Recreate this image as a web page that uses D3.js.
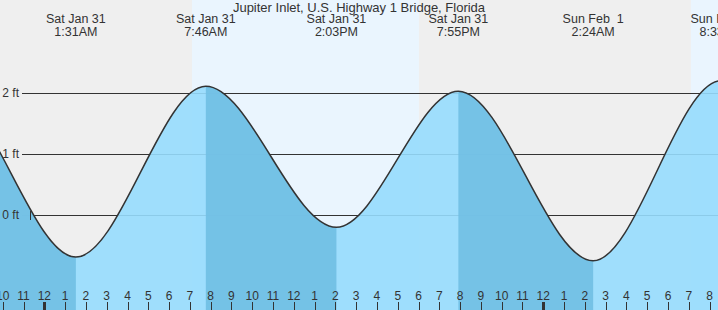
<!DOCTYPE html>
<html>
<head>
<meta charset="utf-8">
<script src="https://cdn.jsdelivr.net/npm/d3@7"></script>
<style>
body { margin: 0; background: #fff; }
text { font-family: "Liberation Sans", Arial, sans-serif; fill: #333; }
</style>
</head>
<body>
<svg width="718" height="310"></svg>
<script>
var title = "Jupiter Inlet, U.S. Highway 1 Bridge, Florida";

// tide extremes (high/low), local time
var tideTimes = ["2026-01-30T13:10", "2026-01-30T19:22", "2026-01-31T01:31", "2026-01-31T07:46", "2026-01-31T14:03",
                 "2026-01-31T19:55", "2026-02-01T02:24", "2026-02-01T08:33", "2026-02-01T14:50"];
var tideHeights = [-0.2, 2.0, -0.69, 2.11, -0.2, 2.03, -0.75, 2.2, -0.15];
var tideLabelled = [false, false, true, true, true, true, true, true, false];

// daylight spans
var sunrise = ["2026-01-31T07:06", "2026-02-01T07:06"];
var sunset  = ["2026-01-31T18:01", "2026-02-01T18:02"];

var feetTicks = [0, 1, 2];

var svg = d3.select("svg"),
    width = +svg.attr("width"),
    height = +svg.attr("height");

var parse = d3.timeParse("%Y-%m-%dT%H:%M");

var tides = tideTimes.map(function(t, i) {
    return {date: parse(t), ft: tideHeights[i], label: tideLabelled[i]};
});

var x = d3.scaleTime()
    .domain([parse("2026-01-30T21:52"), new Date(+parse("2026-02-01T08:24") + 18000)])
    .range([0, width]);

var y = d3.scaleLinear()
    .domain([0, 2])
    .range([215, 93]);

// night background, then daylight
svg.append("rect")
    .attr("width", width).attr("height", height)
    .attr("fill", "#efefef");

svg.selectAll(".day")
    .data(sunrise)
    .enter().append("rect")
    .attr("class", "day")
    .attr("x", function(d) { return x(parse(d)); })
    .attr("width", function(d, i) { return x(parse(sunset[i])) - x(parse(d)); })
    .attr("y", 0).attr("height", height)
    .attr("fill", "#eaf5fe");

// grid
svg.selectAll(".grid")
    .data(feetTicks)
    .enter().append("line")
    .attr("class", "grid")
    .attr("x1", 22).attr("x2", width)
    .attr("y1", function(d) { return Math.round(y(d)) + 0.5; })
    .attr("y2", function(d) { return Math.round(y(d)) + 0.5; })
    .attr("stroke", "#333");

var area = d3.area()
    .curve(d3.curveMonotoneX)
    .x(function(d) { return x(d.date); })
    .y0(height)
    .y1(function(d) { return y(d.ft); });

var line = d3.line()
    .curve(d3.curveMonotoneX)
    .x(function(d) { return x(d.date); })
    .y(function(d) { return y(d.ft); });

svg.append("path")
    .datum(tides)
    .attr("d", area)
    .attr("fill", "#96dbfd")
    .attr("fill-opacity", 0.9);

// falling tide (high -> low) is darker
var falling = [];
tides.forEach(function(d, i) {
    if (i < tides.length - 1 && d.ft > tides[i + 1].ft) falling.push([d.date, tides[i + 1].date]);
});

var defs = svg.append("defs");
defs.append("clipPath").attr("id", "fall")
    .selectAll("rect")
    .data(falling)
    .enter().append("rect")
    .attr("x", function(d) { return x(d[0]); })
    .attr("width", function(d) { return x(d[1]) - x(d[0]); })
    .attr("y", 0).attr("height", height);

svg.append("path")
    .datum(tides)
    .attr("d", area)
    .attr("clip-path", "url(#fall)")
    .attr("fill", "#71bfe4")
    .attr("fill-opacity", 0.92);

svg.append("path")
    .datum(tides)
    .attr("d", line)
    .attr("fill", "none")
    .attr("stroke", "#333")
    .attr("stroke-width", 1.5);

// small mark on the 0 ft line
svg.append("line")
    .attr("x1", 30.5).attr("x2", 30.5)
    .attr("y1", y(0) - 4).attr("y2", y(0) + 5)
    .attr("stroke", "#333");

// y labels
svg.selectAll(".ylab")
    .data(feetTicks)
    .enter().append("text")
    .attr("x", 19)
    .attr("y", function(d) { return y(d); })
    .attr("dy", "0.35em")
    .attr("text-anchor", "end")
    .style("font-size", "12px")
    .text(function(d) { return d + " ft"; });

// title + extreme labels
svg.append("text")
    .attr("x", width / 2).attr("y", 12)
    .attr("text-anchor", "middle")
    .style("font-size", "13px")
    .text(title);

var dayFmt = d3.timeFormat("%a %b %e"),
    timeFmt = d3.timeFormat("%-I:%M%p");

var lab = svg.selectAll(".tlab")
    .data(tides.filter(function(d) { return d.label; }))
    .enter().append("g")
    .attr("transform", function(d) { return "translate(" + x(d.date) + ",0)"; });

lab.append("text")
    .attr("y", 23)
    .attr("text-anchor", "middle")
    .style("font-size", "12.5px")
    .style("white-space", "pre")
    .text(function(d) { return dayFmt(d.date); });

lab.append("text")
    .attr("y", 36)
    .attr("text-anchor", "middle")
    .style("font-size", "12.5px")
    .text(function(d) { return timeFmt(d.date); });

// hour axis along the bottom
var hours = x.ticks(d3.timeHour.every(1));

svg.selectAll(".htick")
    .data(hours)
    .enter().append("line")
    .attr("x1", function(d) { return Math.round(x(d)) + 0.5; })
    .attr("x2", function(d) { return Math.round(x(d)) + 0.5; })
    .attr("y1", 302).attr("y2", height)
    .attr("stroke", "#333")
    .attr("stroke-width", function(d) { return d.getHours() === 0 ? 3 : 1; });

svg.selectAll(".hlab")
    .data(hours)
    .enter().append("text")
    .attr("x", function(d) { return x(d); })
    .attr("y", 300)
    .attr("text-anchor", "middle")
    .style("font-size", "12px")
    .text(d3.timeFormat("%-I"));
</script>
</body>
</html>
